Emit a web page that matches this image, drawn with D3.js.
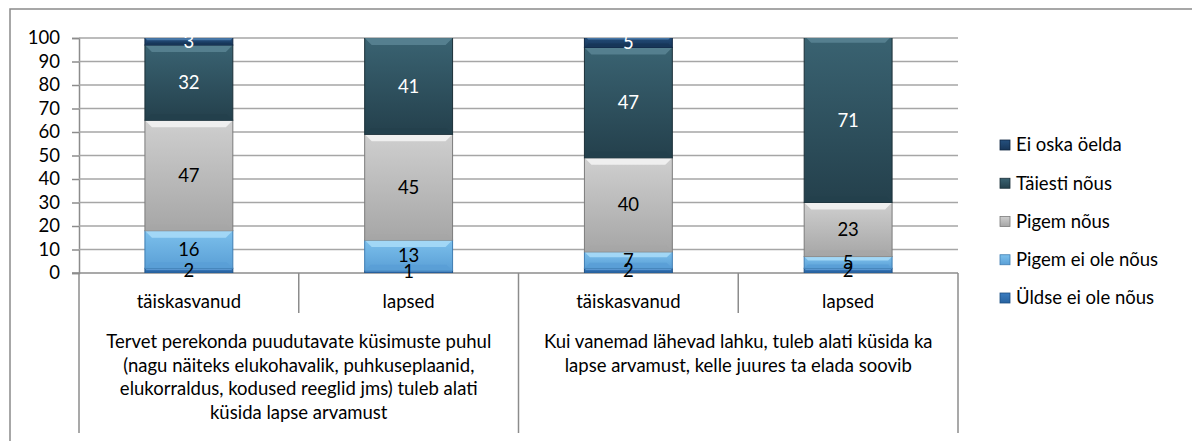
<!DOCTYPE html>
<html>
<head>
<meta charset="utf-8">
<script src="https://cdn.jsdelivr.net/npm/d3@7"></script>
<style>
  body { margin: 0; background: #fff; }
  svg { display: block; font-family: Lato, "Open Sans", sans-serif; }
</style>
</head>
<body>
<main></main>
<script>
// data
let groups = [
    ["Tervet perekonda puudutavate küsimuste puhul",
     "(nagu näiteks elukohavalik, puhkuseplaanid,",
     "elukorraldus, kodused reeglid jms) tuleb alati",
     "küsida lapse arvamust"],
    ["Kui vanemad lähevad lahku, tuleb alati küsida ka",
     "lapse arvamust, kelle juures ta elada soovib"]
]
let subLabels = ["täiskasvanud", "lapsed", "täiskasvanud", "lapsed"]
let seriesNames = ["Üldse ei ole nõus", "Pigem ei ole nõus", "Pigem nõus", "Täiesti nõus", "Ei oska öelda"]
let yldseEi = [2, 1, 2, 2]
let pigemEi = [16, 13, 7, 5]
let pigemNous = [47, 45, 40, 23]
let taiestiNous = [32, 41, 47, 71]
let eiOska = [3, 0, 5, 0]
let yTicks = [0, 10, 20, 30, 40, 50, 60, 70, 80, 90, 100]

const svgWidth = 1192
const svgHeight = 441

const plotLeft = 79
const plotRight = 958
const plotTop = 38
const plotBottom = 273

const fontSize = "18.5px"

// colours: [top, bottom, highlight, edge, label]
const styles = {
    "Üldse ei ole nõus": ["#3a7cc0", "#2863a0", "#6fa8dc", "#1d4f82", "#000"],
    "Pigem ei ole nõus": ["#7cc0ec", "#5a9fd6", "#a9dcf8", "#3f7db2", "#000"],
    "Pigem nõus": ["#cfcfcf", "#a6a6a6", "#f4f4f4", "#7c7c7c", "#000"],
    "Täiesti nõus": ["#3a6372", "#24404c", "#5a8594", "#1a2f38", "#fff"],
    "Ei oska öelda": ["#25507e", "#173659", "#4d7fb0", "#0f2642", "#fff"]
}

let rows = subLabels.map((s, i) => ({
    id: i,
    "Üldse ei ole nõus": yldseEi[i],
    "Pigem ei ole nõus": pigemEi[i],
    "Pigem nõus": pigemNous[i],
    "Täiesti nõus": taiestiNous[i],
    "Ei oska öelda": eiOska[i]
}))

let stacked = d3.stack().keys(seriesNames)(rows)

let svg = d3.select("main")
    .append("svg")
    .attr("width", svgWidth)
    .attr("height", svgHeight)

//outer frame
svg.append("rect")
    .attr("x", 10)
    .attr("y", 9)
    .attr("width", 1200)
    .attr("height", 460)
    .attr("fill", "white")
    .attr("stroke", "#8a8a8a")
    .attr("stroke-width", 1.5)

let defs = svg.append("defs")
seriesNames.forEach((k, i) => {
    let g = defs.append("linearGradient")
        .attr("id", "grad" + i)
        .attr("x1", 0).attr("y1", 0).attr("x2", 0).attr("y2", 1)
    g.append("stop").attr("offset", "0%").attr("stop-color", styles[k][0])
    g.append("stop").attr("offset", "100%").attr("stop-color", styles[k][1])
})
defs.append("clipPath").attr("id", "plotClip")
    .append("rect")
    .attr("x", plotLeft).attr("y", plotTop)
    .attr("width", plotRight - plotLeft).attr("height", plotBottom - plotTop)

//scales
let yScale = d3.scaleLinear()
    .domain([0, 100])
    .range([plotBottom, plotTop])

let xScale = d3.scaleBand()
    .domain(subLabels.map((d, i) => i))
    .range([plotLeft, plotRight])
    .paddingInner(0.6)
    .paddingOuter(0.3)

let groupScale = d3.scaleBand()
    .domain(groups.map((d, i) => i))
    .range([plotLeft, plotRight])

//gridlines + y axis
let leftAxis = d3.axisLeft(yScale)
    .tickValues(yTicks)
    .tickSize(7)
    .tickPadding(12)

let yAxis = svg.append("g")
    .attr("transform", `translate(${plotLeft}, 0)`)
    .call(leftAxis)

yAxis.select(".domain").attr("stroke", "#8c8c8c").attr("stroke-width", 1.5)
yAxis.selectAll("line").attr("stroke", "#8c8c8c").attr("stroke-width", 1.5)
yAxis.selectAll("text")
    .attr("fill", "#000")
    .style("font-size", fontSize)
    .style("font-family", "Lato, sans-serif")

svg.append("g")
    .selectAll("line")
    .data(yTicks.filter(d => d > 0))
    .enter()
    .append("line")
    .attr("x1", plotLeft)
    .attr("x2", plotRight)
    .attr("y1", d => yScale(d))
    .attr("y2", d => yScale(d))
    .attr("stroke", "#a6a6a6")
    .attr("stroke-width", 1.5)

//category axis lines
svg.append("line")
    .attr("x1", plotLeft - 7).attr("x2", plotRight)
    .attr("y1", plotBottom).attr("y2", plotBottom)
    .attr("stroke", "#8c8c8c").attr("stroke-width", 1.5)

let subEdges = d3.range(subLabels.length + 1).map(i => plotLeft + i * (plotRight - plotLeft) / subLabels.length)
svg.append("g")
    .selectAll("line")
    .data(subEdges)
    .enter()
    .append("line")
    .attr("x1", d => d).attr("x2", d => d)
    .attr("y1", plotBottom)
    .attr("y2", (d, i) => i % 2 === 0 ? 433 : 313)
    .attr("stroke", "#8c8c8c")
    .attr("stroke-width", 1.5)

//bars
let bars = svg.append("g").attr("clip-path", "url(#plotClip)")

stacked.forEach((layer, si) => {
    let st = styles[layer.key]
    let seg = bars.append("g")
        .selectAll("g")
        .data(layer.filter(d => d[1] > d[0]))
        .enter()
        .append("g")

    seg.append("rect")
        .attr("x", d => xScale(d.data.id))
        .attr("y", d => yScale(d[1]))
        .attr("width", xScale.bandwidth())
        .attr("height", d => yScale(d[0]) - yScale(d[1]))
        .attr("fill", `url(#grad${si})`)
        .attr("stroke", st[3])
        .attr("stroke-width", 1)

    //top bevel
    seg.append("path")
        .attr("d", d => {
            let x0 = xScale(d.data.id), x1 = x0 + xScale.bandwidth()
            let y0 = yScale(d[1]), h = Math.min(7, (yScale(d[0]) - y0) / 3)
            return `M${x0},${y0}L${x1},${y0}L${x1 - h},${y0 + h}L${x0 + h},${y0 + h}Z`
        })
        .attr("fill", st[2])
        .attr("opacity", 0.85)

    //bottom bevel
    seg.append("path")
        .attr("d", d => {
            let x0 = xScale(d.data.id), x1 = x0 + xScale.bandwidth()
            let y1 = yScale(d[0]), h = Math.min(6, (y1 - yScale(d[1])) / 3)
            return `M${x0},${y1}L${x1},${y1}L${x1 - h},${y1 - h}L${x0 + h},${y1 - h}Z`
        })
        .attr("fill", st[1])
        .attr("opacity", 0.9)
})

//data labels
let labels = svg.append("g")
stacked.forEach((layer) => {
    labels.selectAll(null)
        .data(layer.filter(d => d[1] > d[0]))
        .enter()
        .append("text")
        .attr("x", d => xScale(d.data.id) + xScale.bandwidth() / 2)
        .attr("y", d => yScale((d[0] + Math.min(d[1], 100)) / 2))
        .attr("dy", "0.35em")
        .attr("text-anchor", "middle")
        .attr("fill", styles[layer.key][4])
        .style("font-size", fontSize)
        .text(d => d[1] - d[0])
})

//category labels
svg.append("g")
    .selectAll("text")
    .data(subLabels)
    .enter()
    .append("text")
    .attr("x", (d, i) => xScale(i) + xScale.bandwidth() / 2)
    .attr("y", 302)
    .attr("dy", "0.35em")
    .attr("text-anchor", "middle")
    .style("font-size", fontSize)
    .text(d => d)

groups.forEach((lines, gi) => {
    svg.append("text")
        .attr("x", groupScale(gi) + groupScale.bandwidth() / 2)
        .attr("y", 342)
        .attr("text-anchor", "middle")
        .style("font-size", fontSize)
        .selectAll("tspan")
        .data(lines)
        .enter()
        .append("tspan")
        .attr("x", groupScale(gi) + groupScale.bandwidth() / 2)
        .attr("dy", (d, i) => i === 0 ? "0.35em" : "23.5px")
        .text(d => d)
})

//legend
let legendScale = d3.scalePoint()
    .domain(seriesNames.slice().reverse())
    .range([145, 298])

let legend = svg.append("g")
    .selectAll("g")
    .data(seriesNames.slice().reverse())
    .enter()
    .append("g")
    .attr("transform", d => `translate(1000, ${legendScale(d)})`)

legend.append("rect")
    .attr("x", 0).attr("y", -5)
    .attr("width", 10).attr("height", 10)
    .attr("fill", d => `url(#grad${seriesNames.indexOf(d)})`)
    .attr("stroke", d => styles[d][3])
    .attr("stroke-width", 0.8)

legend.append("text")
    .attr("x", 16)
    .attr("dy", "0.35em")
    .style("font-size", fontSize)
    .text(d => d)
</script>
</body>
</html>
